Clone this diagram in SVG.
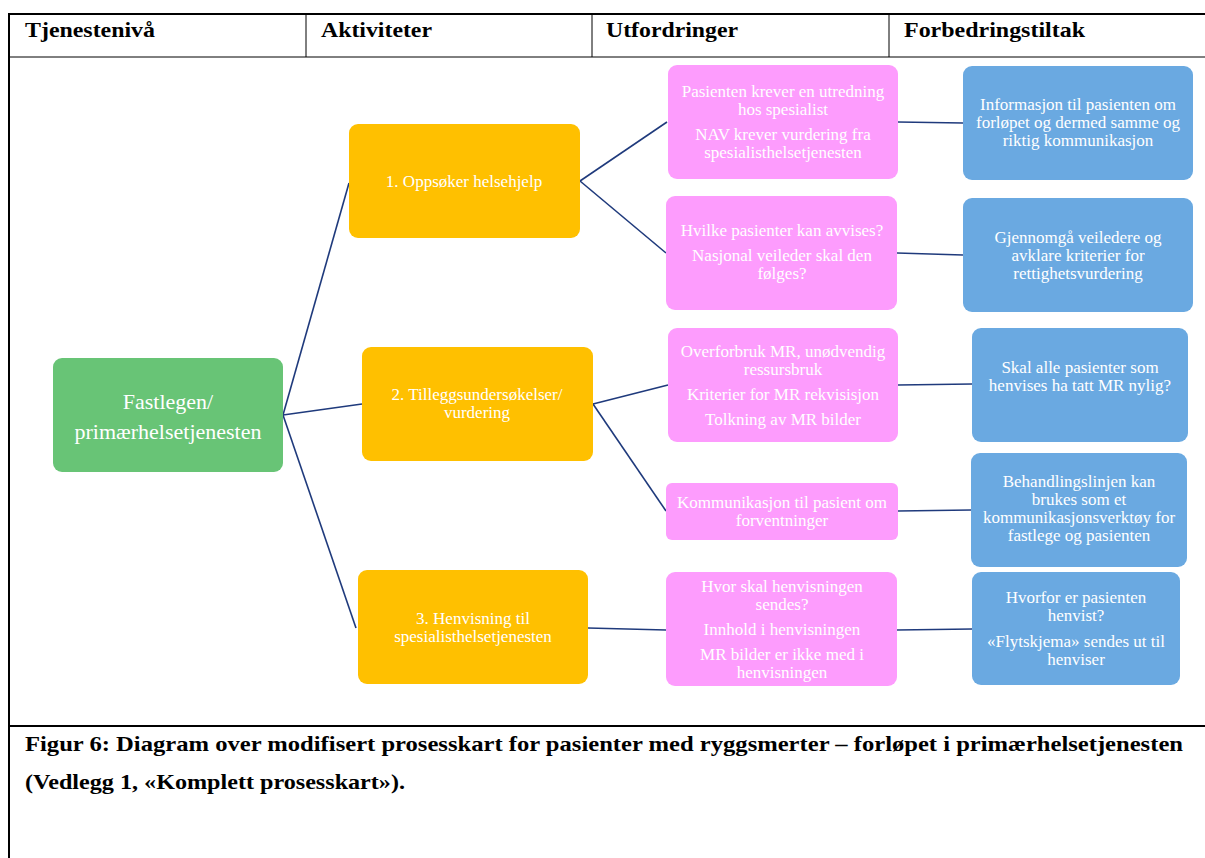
<svg xmlns="http://www.w3.org/2000/svg" width="1205" height="858" viewBox="0 0 1205 858">
  <style>
    .frame { stroke: #000; stroke-width: 2; fill: none; }
    .thin { stroke: #000; stroke-width: 1; fill: none; }
    .head { font-family: "Liberation Serif", "Times New Roman", serif; font-weight: bold; font-size: 22px; fill: #000; }
    .cap { font-family: "Liberation Serif", "Times New Roman", serif; font-weight: bold; font-size: 21px; fill: #000; }
    .lbl { font-family: "Liberation Serif", "DejaVu Serif", serif; font-size: 17px; fill: #fff; text-anchor: middle; }
    .big { font-size: 22px; }
    .green { fill: #68c476; }
    .orange { fill: #ffc000; }
    .pink { fill: #fd9cfd; }
    .blue { fill: #6aa9e1; }
    .link { stroke: #1f3a7c; stroke-width: 1.6; fill: none; }
  </style>

  <rect width="1205" height="858" fill="#fff"/>

  <!-- table frame -->
  <g id="table">
    <line class="frame" x1="9" y1="14" x2="1205" y2="14"/>
    <line class="frame" x1="9" y1="13" x2="9" y2="858"/>
    <line class="thin" x1="9" y1="57" x2="1205" y2="57"/>
    <line class="thin" x1="306" y1="14" x2="306" y2="57"/>
    <line class="thin" x1="592" y1="14" x2="592" y2="57"/>
    <line class="thin" x1="889" y1="14" x2="889" y2="57"/>
    <line class="frame" x1="9" y1="726" x2="1205" y2="726"/>
    <text class="head" x="25" y="37" textLength="130" lengthAdjust="spacingAndGlyphs">Tjenestenivå</text>
    <text class="head" x="321" y="37" textLength="111" lengthAdjust="spacingAndGlyphs">Aktiviteter</text>
    <text class="head" x="606" y="37" textLength="132" lengthAdjust="spacingAndGlyphs">Utfordringer</text>
    <text class="head" x="904" y="37" textLength="181" lengthAdjust="spacingAndGlyphs">Forbedringstiltak</text>
  </g>

  <!-- connectors -->
  <g id="connectors">
    <path class="link" d="M283,415 L349,183"/>
    <path class="link" d="M283,415 L362,404"/>
    <path class="link" d="M283,415 L356,628"/>
    <path class="link" d="M580,181 L667,122"/>
    <path class="link" d="M580,181 L666,253"/>
    <path class="link" d="M593,404 L668,385"/>
    <path class="link" d="M593,404 L666,511"/>
    <path class="link" d="M588,628 L666,630"/>
    <path class="link" d="M898,122 L963,123"/>
    <path class="link" d="M897,253 L963,255"/>
    <path class="link" d="M898,385 L972,384"/>
    <path class="link" d="M898,511 L971,510"/>
    <path class="link" d="M897,630 L972,629"/>
  </g>

  <!-- service level -->
  <g id="n-fastlegen">
    <rect class="green" x="53" y="358" width="230" height="114" rx="9"/>
    <text class="lbl big" x="168" y="409">Fastlegen/</text>
    <text class="lbl big" x="168" y="439">primærhelsetjenesten</text>
  </g>

  <!-- activities -->
  <g id="n-akt1">
    <rect class="orange" x="349" y="124" width="231" height="114" rx="9"/>
    <text class="lbl" x="464" y="187">1. Oppsøker helsehjelp</text>
  </g>
  <g id="n-akt2">
    <rect class="orange" x="362" y="347" width="231" height="114" rx="9"/>
    <text class="lbl" x="477" y="400">2. Tilleggsundersøkelser/</text>
    <text class="lbl" x="477" y="418">vurdering</text>
  </g>
  <g id="n-akt3">
    <rect class="orange" x="358" y="570" width="230" height="114" rx="9"/>
    <text class="lbl" x="473" y="624">3. Henvisning til</text>
    <text class="lbl" x="473" y="642">spesialisthelsetjenesten</text>
  </g>

  <!-- challenges -->
  <g id="n-utf1">
    <rect class="pink" x="668" y="65" width="230" height="114" rx="9"/>
    <text class="lbl" x="783" y="97">Pasienten krever en utredning</text>
    <text class="lbl" x="783" y="115">hos spesialist</text>
    <text class="lbl" x="783" y="140">NAV krever vurdering fra</text>
    <text class="lbl" x="783" y="158">spesialisthelsetjenesten</text>
  </g>
  <g id="n-utf2">
    <rect class="pink" x="666" y="196" width="231" height="114" rx="9"/>
    <text class="lbl" x="782" y="236">Hvilke pasienter kan avvises?</text>
    <text class="lbl" x="782" y="261">Nasjonal veileder skal den</text>
    <text class="lbl" x="782" y="279">følges?</text>
  </g>
  <g id="n-utf3">
    <rect class="pink" x="668" y="328" width="230" height="114" rx="9"/>
    <text class="lbl" x="783" y="357">Overforbruk MR, unødvendig</text>
    <text class="lbl" x="783" y="375">ressursbruk</text>
    <text class="lbl" x="783" y="400">Kriterier for MR rekvisisjon</text>
    <text class="lbl" x="783" y="425">Tolkning av MR bilder</text>
  </g>
  <g id="n-utf4">
    <rect class="pink" x="666" y="483" width="232" height="57" rx="6"/>
    <text class="lbl" x="782" y="508">Kommunikasjon til pasient om</text>
    <text class="lbl" x="782" y="526">forventninger</text>
  </g>
  <g id="n-utf5">
    <rect class="pink" x="666" y="572" width="231" height="114" rx="9"/>
    <text class="lbl" x="782" y="592">Hvor skal henvisningen</text>
    <text class="lbl" x="782" y="610">sendes?</text>
    <text class="lbl" x="782" y="635">Innhold i henvisningen</text>
    <text class="lbl" x="782" y="660">MR bilder er ikke med i</text>
    <text class="lbl" x="782" y="678">henvisningen</text>
  </g>

  <!-- improvement measures -->
  <g id="n-tilt1">
    <rect class="blue" x="963" y="66" width="230" height="114" rx="9"/>
    <text class="lbl" x="1078" y="110">Informasjon til pasienten om</text>
    <text class="lbl" x="1078" y="128">forløpet og dermed samme og</text>
    <text class="lbl" x="1078" y="146">riktig kommunikasjon</text>
  </g>
  <g id="n-tilt2">
    <rect class="blue" x="963" y="198" width="230" height="114" rx="9"/>
    <text class="lbl" x="1078" y="243">Gjennomgå veiledere og</text>
    <text class="lbl" x="1078" y="261">avklare kriterier for</text>
    <text class="lbl" x="1078" y="279">rettighetsvurdering</text>
  </g>
  <g id="n-tilt3">
    <rect class="blue" x="972" y="328" width="216" height="114" rx="9"/>
    <text class="lbl" x="1080" y="373">Skal alle pasienter som</text>
    <text class="lbl" x="1080" y="391">henvises ha tatt MR nylig?</text>
  </g>
  <g id="n-tilt4">
    <rect class="blue" x="971" y="453" width="216" height="114" rx="9"/>
    <text class="lbl" x="1079" y="487">Behandlingslinjen kan</text>
    <text class="lbl" x="1079" y="505">brukes som et</text>
    <text class="lbl" x="1079" y="523">kommunikasjonsverktøy for</text>
    <text class="lbl" x="1079" y="541">fastlege og pasienten</text>
  </g>
  <g id="n-tilt5">
    <rect class="blue" x="972" y="572" width="208" height="113" rx="9"/>
    <text class="lbl" x="1076" y="603">Hvorfor er pasienten</text>
    <text class="lbl" x="1076" y="621">henvist?</text>
    <text class="lbl" x="1076" y="647">«Flytskjema» sendes ut til</text>
    <text class="lbl" x="1076" y="665">henviser</text>
  </g>

  <!-- caption -->
  <g id="caption">
    <text class="cap" x="25" y="751" textLength="1158" lengthAdjust="spacingAndGlyphs">Figur 6: Diagram over modifisert prosesskart for pasienter med ryggsmerter – forløpet i primærhelsetjenesten</text>
    <text class="cap" x="25" y="789" textLength="380" lengthAdjust="spacingAndGlyphs">(Vedlegg 1, «Komplett prosesskart»).</text>
  </g>
</svg>
